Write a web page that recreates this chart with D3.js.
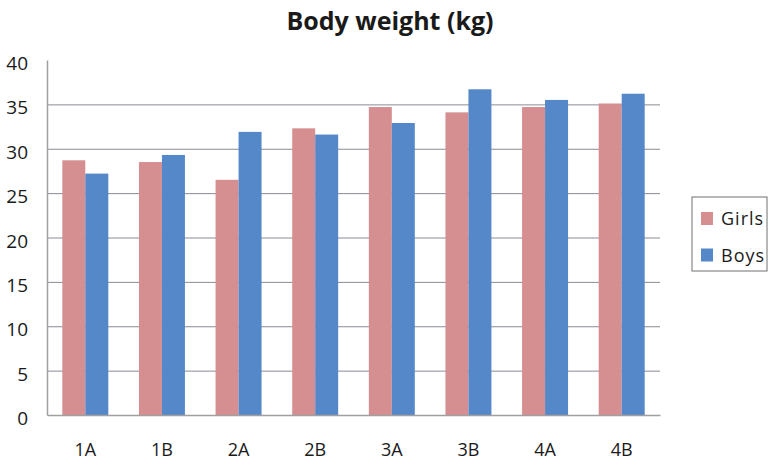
<!DOCTYPE html>
<html>
<head>
<meta charset="utf-8">
<script src="https://cdn.jsdelivr.net/npm/d3@7"></script>
<style>
  body { margin: 0; background: #fff; }
  text { font-family: "Open Sans", "Noto Sans", sans-serif; fill: #1a1a1a; }
</style>
</head>
<body>
<div class="container"></div>
<script>
// chart data
var classes = ['1A', '1B', '2A', '2B', '3A', '3B', '4A', '4B'];
var girls = [28.7, 28.5, 26.5, 32.3, 34.7, 34.1, 34.7, 35.1];
var boys = [27.2, 29.3, 31.9, 31.6, 32.9, 36.7, 35.5, 36.2];
var seriesNames = ['Girls', 'Boys'];
var yTicks = [0, 5, 10, 15, 20, 25, 30, 35, 40];

var colors = { Girls: '#d58f91', Boys: '#5488c8' };

var width = 768, height = 464;
var plot = { left: 47, right: 660, top: 60, bottom: 415 };

var svg = d3.select('.container').append('svg')
  .attr('width', width)
  .attr('height', height);

var x = d3.scaleBand()
  .domain(classes)
  .range([plot.left, plot.right])
  .paddingInner(0.4)
  .paddingOuter(0.2);

var inner = d3.scaleBand()
  .domain(seriesNames)
  .range([0, x.bandwidth()]);

var y = d3.scaleLinear()
  .domain([0, 40])
  .range([plot.bottom, plot.top]);

// gridlines
svg.append('g').selectAll('line')
  .data(yTicks.filter(function(d) { return d > 0 && d < 40; }))
  .enter().append('line')
  .attr('x1', plot.left)
  .attr('x2', plot.right)
  .attr('y1', function(d) { return y(d) + 0.5; })
  .attr('y2', function(d) { return y(d) + 0.5; })
  .attr('stroke', '#8a8a96')
  .attr('stroke-width', 1);

// bars
var rows = classes.map(function(c, i) {
  return { cls: c, values: [{ name: 'Girls', v: girls[i] }, { name: 'Boys', v: boys[i] }] };
});

var groups = svg.append('g').selectAll('g')
  .data(rows)
  .enter().append('g')
  .attr('transform', function(d) { return 'translate(' + x(d.cls) + ',0)'; });

groups.selectAll('rect')
  .data(function(d) { return d.values; })
  .enter().append('rect')
  .attr('x', function(d) { return inner(d.name); })
  .attr('width', inner.bandwidth())
  .attr('y', function(d) { return y(d.v); })
  .attr('height', function(d) { return y(0) - y(d.v); })
  .attr('fill', function(d) { return colors[d.name]; });

// axes
var yAxis = svg.append('g')
  .attr('transform', 'translate(' + plot.left + ',0)')
  .call(d3.axisLeft(y).tickValues(yTicks).tickSize(0).tickPadding(19));
yAxis.select('.domain').attr('stroke', '#a0a0a0').attr('stroke-width', 1.5);
yAxis.selectAll('text')
  .attr('dy', '0.5em')
  .style('font-size', '19px')
  .style('font-family', '"Open Sans", "Noto Sans", sans-serif')
  .attr('fill', '#1a1a1a');

var xAxis = svg.append('g')
  .attr('transform', 'translate(0,' + plot.bottom + ')')
  .call(d3.axisBottom(x).tickSize(0).tickPadding(28).tickSizeOuter(0));
xAxis.select('.domain').attr('stroke', '#a0a0a0').attr('stroke-width', 1.5);
xAxis.selectAll('text')
  .style('font-size', '18px')
  .style('font-family', '"Open Sans", "Noto Sans", sans-serif')
  .attr('fill', '#1a1a1a');

// title
svg.append('text')
  .attr('x', 390)
  .attr('y', 30)
  .attr('text-anchor', 'middle')
  .style('font-size', '25px')
  .style('font-weight', 'bold')
  .text('Body weight (kg)');

// legend
var legend = svg.append('g').attr('transform', 'translate(692,197)');
legend.append('rect')
  .attr('width', 75)
  .attr('height', 74)
  .attr('fill', 'none')
  .attr('stroke', '#707070')
  .attr('stroke-width', 1);

var item = legend.selectAll('.item')
  .data(seriesNames)
  .enter().append('g')
  .attr('class', 'item')
  .attr('transform', function(d, i) { return 'translate(9,' + (15 + i * 36.5) + ')'; });

item.append('rect')
  .attr('width', 12)
  .attr('height', 13)
  .attr('fill', function(d) { return colors[d]; });

item.append('text')
  .attr('x', 20)
  .attr('y', 13)
  .style('font-size', '18px')
  .style('letter-spacing', '1px')
  .text(function(d) { return d; });
</script>
</body>
</html>
